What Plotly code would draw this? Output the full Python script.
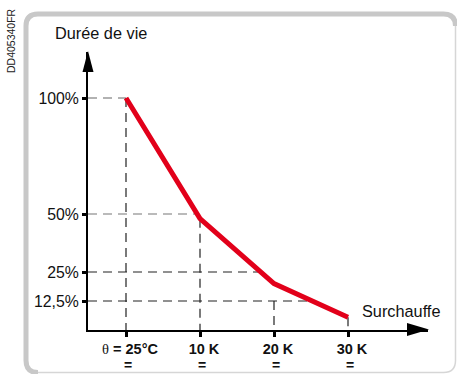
import numpy as np
import plotly.graph_objects as go

# ---------------- data ----------------
overheat_K = [0, 10, 20, 30]
x_tick_labels = ["θ = 25°C", "10 K", "20 K", "30 K"]
x_sub_labels = ["=", "=", "=", "="]
life_pct = [100, 48, 20, 5.5]
ref_levels = [100, 50, 25, 12.5]
ref_labels = ["100%", "50%", "25%", "12,5%"]
vguide_tops = [100, 48, 12.5, 5.5]
y_title = "Durée de vie"
x_title = "Surchauffe"
doc_code = "DD405340FR"

# ---------------- layout geometry (pixels) ----------------
W, H = 457, 374
L, R, T, B = 88, 29, 52, 44
PW, PH = W - L - R, H - T - B
XR = [-5.135, -5.135 + PW / 7.4]
YR = [0, PH / 2.32]

def px(p):
    return (p - L) / PW

def py(p):
    return (H - B - p) / PH

FONT = "Liberation Sans, Arial, sans-serif"
RED = "#e2001a"

fig = go.Figure()

# horizontal guides: from y axis to the red curve
rev_y = life_pct[::-1]
rev_x = overheat_K[::-1]
h_colors = ["#666666", "#777777", "#222222", "#222222"]
for lvl, col in zip(ref_levels, h_colors):
    x_end = float(np.interp(lvl, rev_y, rev_x))
    fig.add_trace(go.Scatter(x=[XR[0], x_end], y=[lvl, lvl], mode="lines",
                             line=dict(color=col, width=1.2, dash="9px,6px"),
                             hoverinfo="skip", showlegend=False))

# vertical guides
for xv, top in zip(overheat_K, vguide_tops):
    fig.add_trace(go.Scatter(x=[xv, xv], y=[top, 0], mode="lines",
                             line=dict(color="#222222", width=1.2, dash="9px,6px"),
                             hoverinfo="skip", showlegend=False))

# life curve
fig.add_trace(go.Scatter(x=overheat_K, y=life_pct, mode="lines",
                         line=dict(color=RED, width=5),
                         hoverinfo="skip", showlegend=False))

ticktext = []
for t in x_tick_labels:
    if t.startswith("θ"):
        lab = "<span style='font-family:Liberation Serif;font-weight:normal'>θ</span><b>" + t[1:] + "</b>"
    else:
        lab = "<b>" + t + "</b>"
    ticktext.append(lab)

fig.update_layout(
    width=W, height=H,
    margin=dict(l=L, r=R, t=T, b=B, pad=0, autoexpand=False),
    paper_bgcolor="white", plot_bgcolor="white",
    showlegend=False,
    font=dict(family=FONT, color="#111111", size=15),
    xaxis=dict(range=XR, showgrid=False, zeroline=False, showline=True, automargin=False,
               linecolor="black", linewidth=2, ticks="outside", ticklen=5,
               tickwidth=3, tickcolor="black", tickvals=overheat_K,
               ticktext=ticktext, tickfont=dict(size=14.5, family=FONT, color="#111111"),
               ticklabelshift=4),
    yaxis=dict(range=YR, showgrid=False, zeroline=False, showline=True, automargin=False,
               linecolor="black", linewidth=2, ticks="outside", ticklen=4,
               tickwidth=3, tickcolor="black", tickvals=ref_levels,
               ticktext=ref_labels, tickfont=dict(size=15.8, family=FONT, color="#111111")),
)

shapes = []
# arrow heads
shapes.append(dict(type="path", xref="paper", yref="paper",
                   path=f"M {px(88)},{py(51)} L {px(82.5)},{py(72)} L {px(93.5)},{py(72)} Z",
                   fillcolor="black", line=dict(width=0)))
shapes.append(dict(type="path", xref="paper", yref="paper",
                   path=f"M {px(429)},{py(329.5)} L {px(407)},{py(323)} L {px(407)},{py(336)} Z",
                   fillcolor="black", line=dict(width=0)))
# frame: thin outline
r = 12
x0, y0, x1, y1 = 26, 14, 455.5, 372.5
shapes.append(dict(type="path", xref="paper", yref="paper",
                   path=(f"M {px(x0)},{py(y0+r)} Q {px(x0)},{py(y0)} {px(x0+r)},{py(y0)} "
                         f"L {px(x1-r)},{py(y0)} Q {px(x1)},{py(y0)} {px(x1)},{py(y0+r)} "
                         f"L {px(x1)},{py(y1-r)} Q {px(x1)},{py(y1)} {px(x1-r)},{py(y1)} "
                         f"L {px(x0+r)},{py(y1)} Q {px(x0)},{py(y1)} {px(x0)},{py(y1-r)} Z"),
                   line=dict(color="#d6d6d6", width=1.5), fillcolor="rgba(0,0,0,0)"))
# frame: thick left/top
shapes.append(dict(type="path", xref="paper", yref="paper",
                   path=(f"M {px(x0+r)},{py(y1)} Q {px(x0)},{py(y1)} {px(x0)},{py(y1-r)} "
                         f"L {px(x0)},{py(y0+r)} Q {px(x0)},{py(y0)} {px(x0+r)},{py(y0)} "
                         f"L {px(x1-r)},{py(y0)} Q {px(x1)},{py(y0)} {px(x1)},{py(y0+r)}"),
                   line=dict(color="#c8c8c8", width=5), fillcolor="rgba(0,0,0,0)"))
fig.update_layout(shapes=shapes)

annotations = [
    dict(text=y_title, xref="paper", yref="paper", x=px(101), y=py(33),
         xanchor="center", yanchor="middle", showarrow=False,
         font=dict(size=16.3, family=FONT, color="#111111")),
    dict(text=x_title, xref="paper", yref="paper", x=px(401), y=py(311),
         xanchor="center", yanchor="middle", showarrow=False,
         font=dict(size=16.3, family=FONT, color="#111111")),
    dict(text=doc_code, xref="paper", yref="paper", x=px(11), y=py(41),
         xanchor="center", yanchor="middle", showarrow=False, textangle=-90,
         font=dict(size=10.5, family=FONT, color="#222222")),
]
for xv, s in zip(overheat_K, x_sub_labels):
    annotations.append(dict(text="<b>" + s + "</b>", xref="x", yref="paper", x=xv,
                            y=py(365), xanchor="center", yanchor="middle",
                            xshift=2, showarrow=False,
                            font=dict(size=14, family=FONT, color="#111111")))
fig.update_layout(annotations=annotations)

fig.write_html("out.html", config={"displayModeBar": False},
               post_script="document.body.style.margin='0';document.body.style.overflow='hidden';")
